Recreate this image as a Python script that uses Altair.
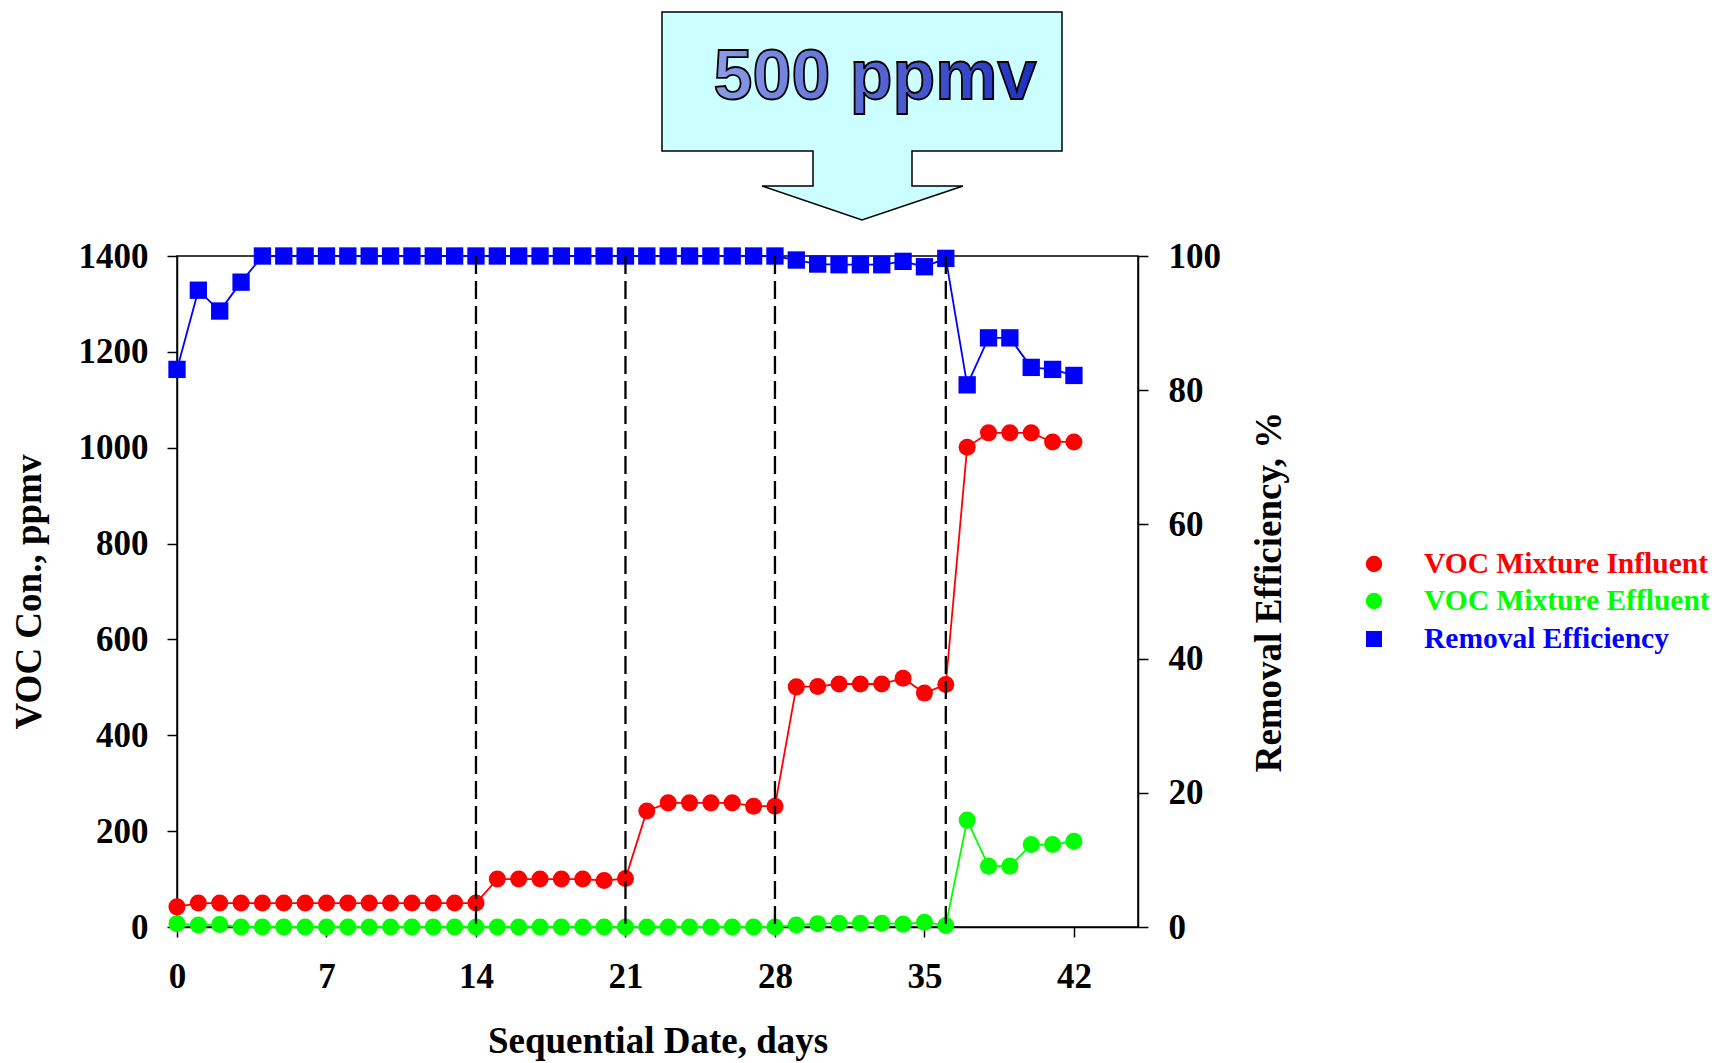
import altair as alt
import pandas as pd

# ---------------- data ----------------
days = list(range(0, 43))
influent = [42] + [50] * 14 + [100, 100, 100, 100, 100, 97, 101] + \
           [242, 259, 259, 259, 259, 252, 252] + \
           [501, 502, 507, 507, 507, 519, 488, 506] + \
           [1001, 1031, 1031, 1031, 1012, 1012]
effluent = [7, 4, 5] + [0] * 26 + [4, 7, 8, 8, 8, 6, 10, 3] + \
           [223, 127, 127, 172, 172, 179]
removal = [83.1, 94.9, 91.8, 96.1] + [100.0] * 25 + \
          [99.4, 98.8, 98.7, 98.7, 98.7, 99.2, 98.4, 99.65] + \
          [80.8, 87.8, 87.8, 83.4, 83.1, 82.2]
phase_days = [14, 21, 28, 36]
x_ticks = [0, 7, 14, 21, 28, 35, 42]
left_ticks = [0, 200, 400, 600, 800, 1000, 1200, 1400]
right_ticks = [0, 20, 40, 60, 80, 100]
legend_labels = ["VOC Mixture Influent", "VOC Mixture Effluent", "Removal Efficiency"]
legend_colors = ["#FF0000", "#00FF00", "#0000FF"]
legend_shapes = ["circle", "circle", "square"]
callout_text = "500 ppmv"

df = pd.DataFrame({"day": days, "influent": influent,
                   "effluent": effluent, "removal": removal})
phase_df = pd.DataFrame({"day": phase_days})

SERIF = "Liberation Serif"
W, H = 961, 671

x_enc = alt.X("day:Q", scale=alt.Scale(domain=[0, 45], nice=False, zero=False),
              axis=alt.Axis(values=x_ticks, title="Sequential Date, days",
                            tickSize=10, labelPadding=22, titlePadding=29,
                            labelFlush=False,
                            labelFontSize=35, titleFontSize=37))

left_scale = alt.Scale(domain=[0, 1400], nice=False)
left_axis = alt.Axis(values=left_ticks, title="VOC Con., ppmv", orient="left", format="d",
                     tickSize=10, labelPadding=19, titlePadding=30, labelFlush=False,
                     labelFontSize=35, titleFontSize=37)
right_scale = alt.Scale(domain=[0, 100], nice=False)
right_axis = alt.Axis(values=right_ticks, title="Removal Efficiency, %", orient="right",
                      format="d", tickSize=10, labelPadding=20, titlePadding=31,
                      titleAngle=270, titleBaseline="top", labelFlush=False,
                      labelFontSize=35, titleFontSize=37)

base = alt.Chart(df)

# Removal efficiency (right axis)
blue_line = base.mark_line(color="#0000FF", strokeWidth=1.8).encode(
    x=x_enc, y=alt.Y("removal:Q", scale=right_scale, axis=right_axis))
blue_pts = base.mark_point(shape="square", filled=True, color="#0000FF",
                           size=300, opacity=1).encode(
    x=x_enc, y=alt.Y("removal:Q", scale=right_scale, axis=right_axis))
right_group = alt.layer(blue_line, blue_pts)

# Influent / effluent (left axis)
red_line = base.mark_line(color="#FF0000", strokeWidth=1.8).encode(
    x=x_enc, y=alt.Y("influent:Q", scale=left_scale, axis=left_axis))
red_pts = base.mark_circle(color="#FF0000", size=290, opacity=1).encode(
    x=x_enc, y=alt.Y("influent:Q", scale=left_scale, axis=left_axis))
green_line = base.mark_line(color="#00FF00", strokeWidth=1.8).encode(
    x=x_enc, y=alt.Y("effluent:Q", scale=left_scale, axis=left_axis))
green_pts = base.mark_circle(color="#00FF00", size=290, opacity=1).encode(
    x=x_enc, y=alt.Y("effluent:Q", scale=left_scale, axis=left_axis))
rules = alt.Chart(phase_df).mark_rule(color="black", strokeWidth=2.3,
                                      strokeDash=[18, 7]).encode(x=x_enc)
left_group = alt.layer(red_line, green_line, red_pts, green_pts, rules)

# Callout arrow (box + down arrow) drawn as one outlined symbol
one = alt.Data(values=[{"k": 0}])
arrow_path = ("M -200 -104 L 200 -104 L 200 35 L 50 35 L 50 70 L 101 70 "
              "L 0 104 L -100 70 L -49 70 L -49 35 L -200 35 Z")
callout = alt.Chart(one).mark_point(
    shape=arrow_path, size=4, filled=True, fill="#CCFFFF", stroke="black",
    strokeWidth=1.5, opacity=1, fillOpacity=1, strokeOpacity=1
).encode(x=alt.value(685), y=alt.value(-140))

grad = alt.LinearGradient(
    gradient="linear",
    stops=[alt.GradientStop(color="#8C9CE8", offset=0),
           alt.GradientStop(color="#1E2FBE", offset=1)],
    x1=0, x2=1, y1=0, y2=0)
callout_txt = alt.Chart(one).mark_text(
    text=callout_text, font="Liberation Sans Narrow, Liberation Sans, Arial",
    fontSize=70, fontWeight="bold", fill=grad, stroke="black", strokeWidth=1.8,
    align="center", baseline="alphabetic"
).encode(x=alt.value(698), y=alt.value(-157))

# Manual legend
legend_layers = []
row_y = [308, 345, 383]
for lab, col, shp, yy in zip(legend_labels, legend_colors, legend_shapes, row_y):
    sz = 256 if shp == "square" else 270
    legend_layers.append(alt.Chart(one).mark_point(
        shape=shp, filled=True, color=col, size=sz, opacity=1
    ).encode(x=alt.value(1197), y=alt.value(yy)))
    legend_layers.append(alt.Chart(one).mark_text(
        text=lab, font=SERIF, fontSize=29.5, fontWeight="bold", color=col,
        align="left", baseline="middle"
    ).encode(x=alt.value(1247), y=alt.value(yy)))

chart = alt.layer(right_group, left_group, callout, callout_txt, *legend_layers).resolve_scale(
    y="independent"
).properties(
    width=W, height=H,
    padding={"left": 10, "top": 9, "right": 5, "bottom": 5}
).configure_view(
    stroke="black", strokeWidth=1.5
).configure_axis(
    grid=False, domainColor="black", domainWidth=1.5, tickColor="black", tickWidth=1.5,
    labelColor="black", titleColor="black",
    labelFont=SERIF, titleFont=SERIF, labelFontWeight="bold", titleFontWeight="bold"
)

chart.save("out.html", embed_options={"renderer": "svg", "actions": False})
